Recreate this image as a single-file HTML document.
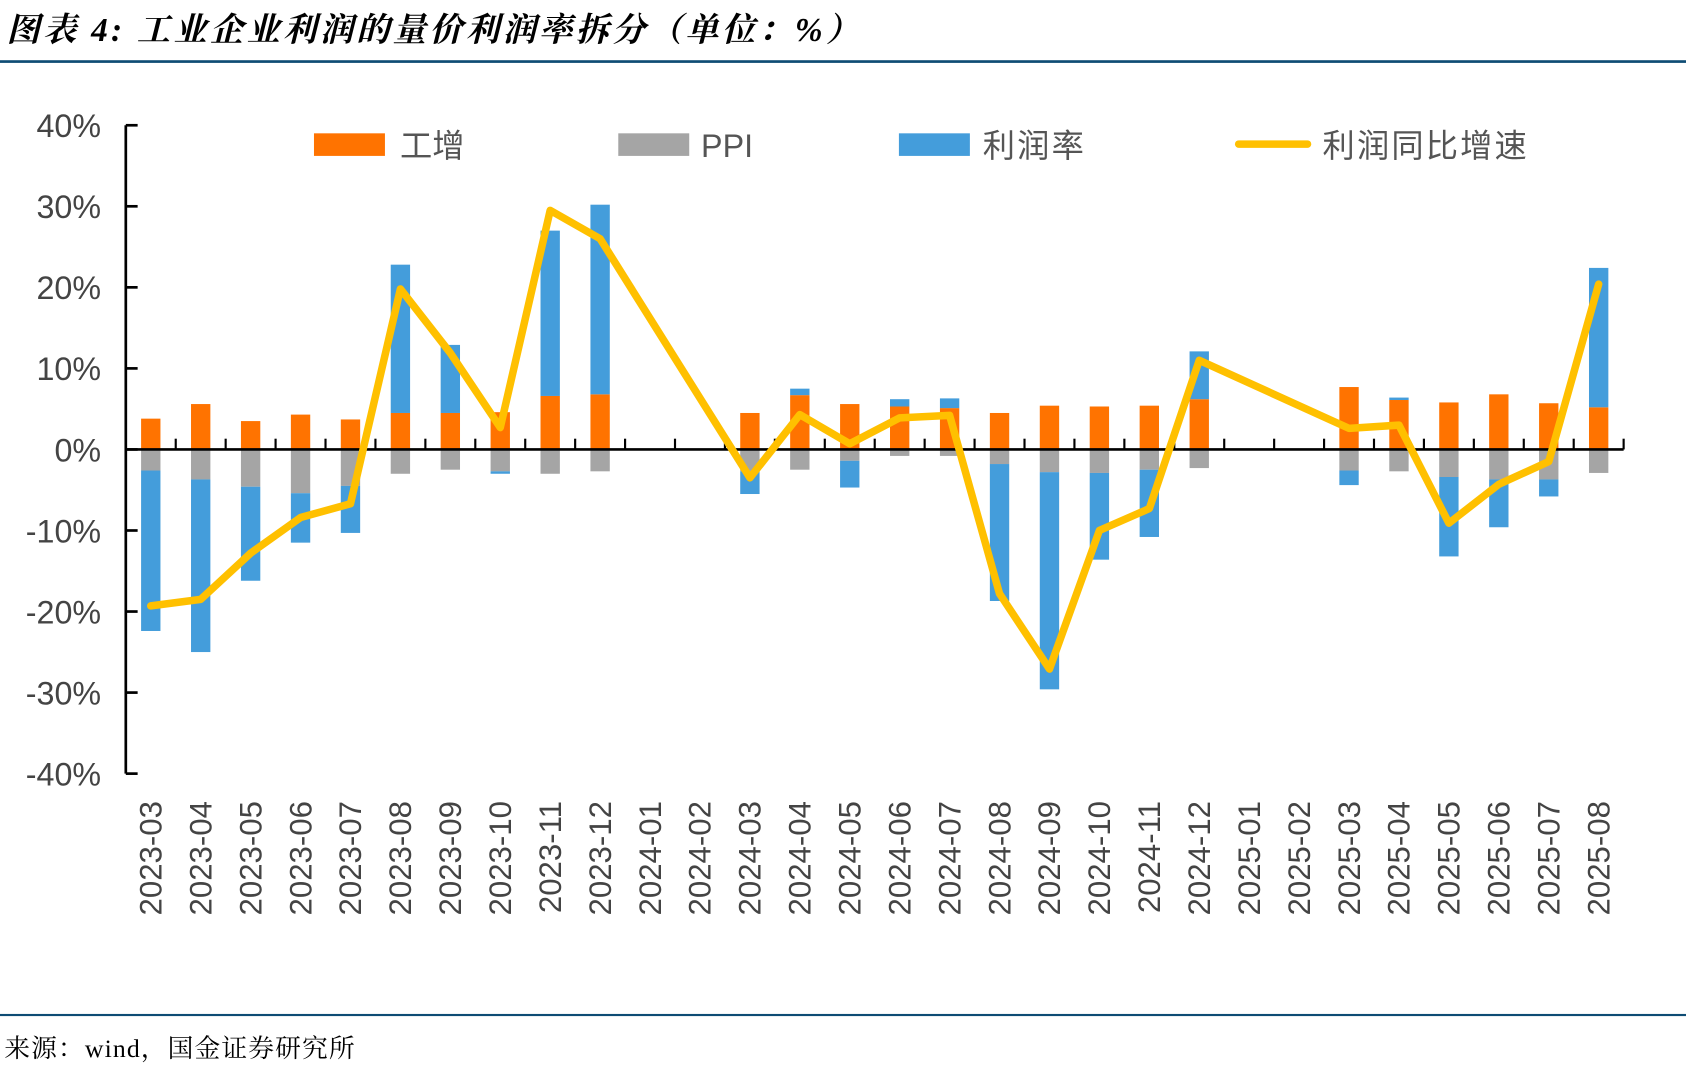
<!DOCTYPE html>
<html><head><meta charset="utf-8"><style>
html,body{margin:0;padding:0;background:#fff;}
svg{display:block;}
text{font-family:"Liberation Sans","Noto Sans CJK SC",sans-serif;}
</style></head><body>
<svg id="chart" width="1686" height="1072" viewBox="0 0 1568 997" preserveAspectRatio="none" xmlns="http://www.w3.org/2000/svg">
<text x="6" y="38" font-size="31" font-weight="bold" font-style="italic" fill="#000" letter-spacing="3" style="font-family:'Liberation Serif','Noto Serif CJK SC',serif">图表 4:  工业企业利润的量价利润率拆分（单位：%）</text>
<rect x="0" y="56" width="1568" height="2.5" fill="#0e4c74"/>
<rect x="0" y="943" width="1568" height="2" fill="#0e4c74"/>
<text x="4" y="983" font-size="24" fill="#000" letter-spacing="1" style="font-family:'Liberation Serif','Noto Serif CJK SC',serif">来源：wind，国金证券研究所</text>
<g id="plot"></g>
<g>
<rect x="292" y="124" width="66" height="21" fill="#FF7300"/>
<text x="372" y="146" font-size="30" fill="#555">工增</text>
<rect x="575" y="124" width="66" height="21" fill="#A5A5A5"/>
<text x="652" y="146" font-size="30" fill="#555">PPI</text>
<rect x="836" y="124" width="66" height="21" fill="#449DDB"/>
<text x="914" y="146" font-size="30" fill="#555" letter-spacing="2">利润率</text>
<line x1="1152" y1="134" x2="1216" y2="134" stroke="#FFC000" stroke-width="7" stroke-linecap="round"/>
<text x="1230" y="146" font-size="30" fill="#555" letter-spacing="2">利润同比增速</text>
</g>
</svg>
<script>
const categories=["2023-03","2023-04","2023-05","2023-06","2023-07","2023-08","2023-09","2023-10","2023-11","2023-12","2024-01","2024-02","2024-03","2024-04","2024-05","2024-06","2024-07","2024-08","2024-09","2024-10","2024-11","2024-12","2025-01","2025-02","2025-03","2025-04","2025-05","2025-06","2025-07","2025-08"];
const industrial=[3.8,5.6,3.5,4.3,3.7,4.5,4.5,4.6,6.6,6.8,null,null,4.5,6.7,5.6,5.3,5.1,4.5,5.4,5.3,5.4,6.2,null,null,7.7,6.1,5.8,6.8,5.7,5.2];
const ppi=[-2.6,-3.7,-4.6,-5.4,-4.5,-3.0,-2.5,-2.7,-3.0,-2.7,null,null,-2.7,-2.5,-1.4,-0.8,-0.8,-1.8,-2.8,-2.9,-2.5,-2.3,null,null,-2.6,-2.7,-3.4,-3.7,-3.7,-2.9];
const margin=[-19.8,-21.3,-11.6,-6.1,-5.8,18.3,8.4,-0.3,20.4,23.4,null,null,-2.8,0.8,-3.3,0.9,1.2,-16.9,-26.8,-10.7,-8.3,5.9,null,null,-1.8,0.3,-9.8,-5.9,-2.1,17.2];
const profitGrowth=[-19.3,-18.5,-12.8,-8.4,-6.7,19.8,11.9,2.7,29.5,26.0,null,null,-3.5,4.3,0.7,3.9,4.2,-17.8,-27.1,-10.0,-7.3,11.0,null,null,2.6,3.0,-9.1,-4.3,-1.5,20.4];
const yTicks=[40,30,20,10,0,-10,-20,-30,-40];

const NS="http://www.w3.org/2000/svg";
const g=document.getElementById('plot');
const X0=117,X1=1510,Y0=418,PX=301.5/40;
const band=(X1-X0)/categories.length;
const xc=i=>X0+band*(i+0.5);
const y=v=>Y0-v*PX;
function mk(t,a){const e=document.createElementNS(NS,t);for(const k in a)e.setAttribute(k,a[k]);g.appendChild(e);return e;}
let ax=mk('line',{x1:X0,y1:y(40),x2:X0,y2:y(-40),stroke:'#000','stroke-width':2.5});


yTicks.forEach(t=>{
  const l=mk('line',{x1:X0,x2:X0+11,y1:y(t),y2:y(t),stroke:'#000','stroke-width':2.5});
  
  
  const tx=mk('text',{x:94,y:y(t)+11,'text-anchor':'end','font-size':30,fill:'#444'});
  tx.textContent=t+'%';
  
  
});
const bw=18;
categories.forEach((c,i)=>{
  let pos=0,neg=0;
  [[industrial,'#FF7300','bar-industrial'],[ppi,'#A5A5A5','bar-ppi'],[margin,'#449DDB','bar-margin']].forEach(([arr,col,nm])=>{
    const v=arr[i]; if(v==null)return;
    let a,b;
    if(v>=0){a=pos;b=pos+v;pos=b;}else{a=neg;b=neg+v;neg=b;}
    const r=mk('rect',{x:xc(i)-bw/2,y:Math.min(y(a),y(b)),width:bw,height:Math.abs(y(a)-y(b)),fill:col});
    
    
  });
  const tx=mk('text',{transform:`translate(${xc(i)+10},${745}) rotate(-90)`,'text-anchor':'end','font-size':29,fill:'#444'});
  tx.textContent=c;
  
  
});
let xa=mk('line',{x1:X0,y1:Y0,x2:X1,y2:Y0,stroke:'#000','stroke-width':2.5});


for(let i=0;i<=categories.length;i++){
  const l=mk('line',{x1:X0+band*i,x2:X0+band*i,y1:Y0,y2:Y0-10,stroke:'#000','stroke-width':2});
  
  
}
let d='';
profitGrowth.forEach((v,i)=>{if(v==null)return;d+=(d?'L':'M')+xc(i)+','+y(v);});
const p=mk('path',{d:d,fill:'none',stroke:'#FFC000','stroke-width':7,'stroke-linejoin':'round','stroke-linecap':'round'});


</script>
</body></html>
